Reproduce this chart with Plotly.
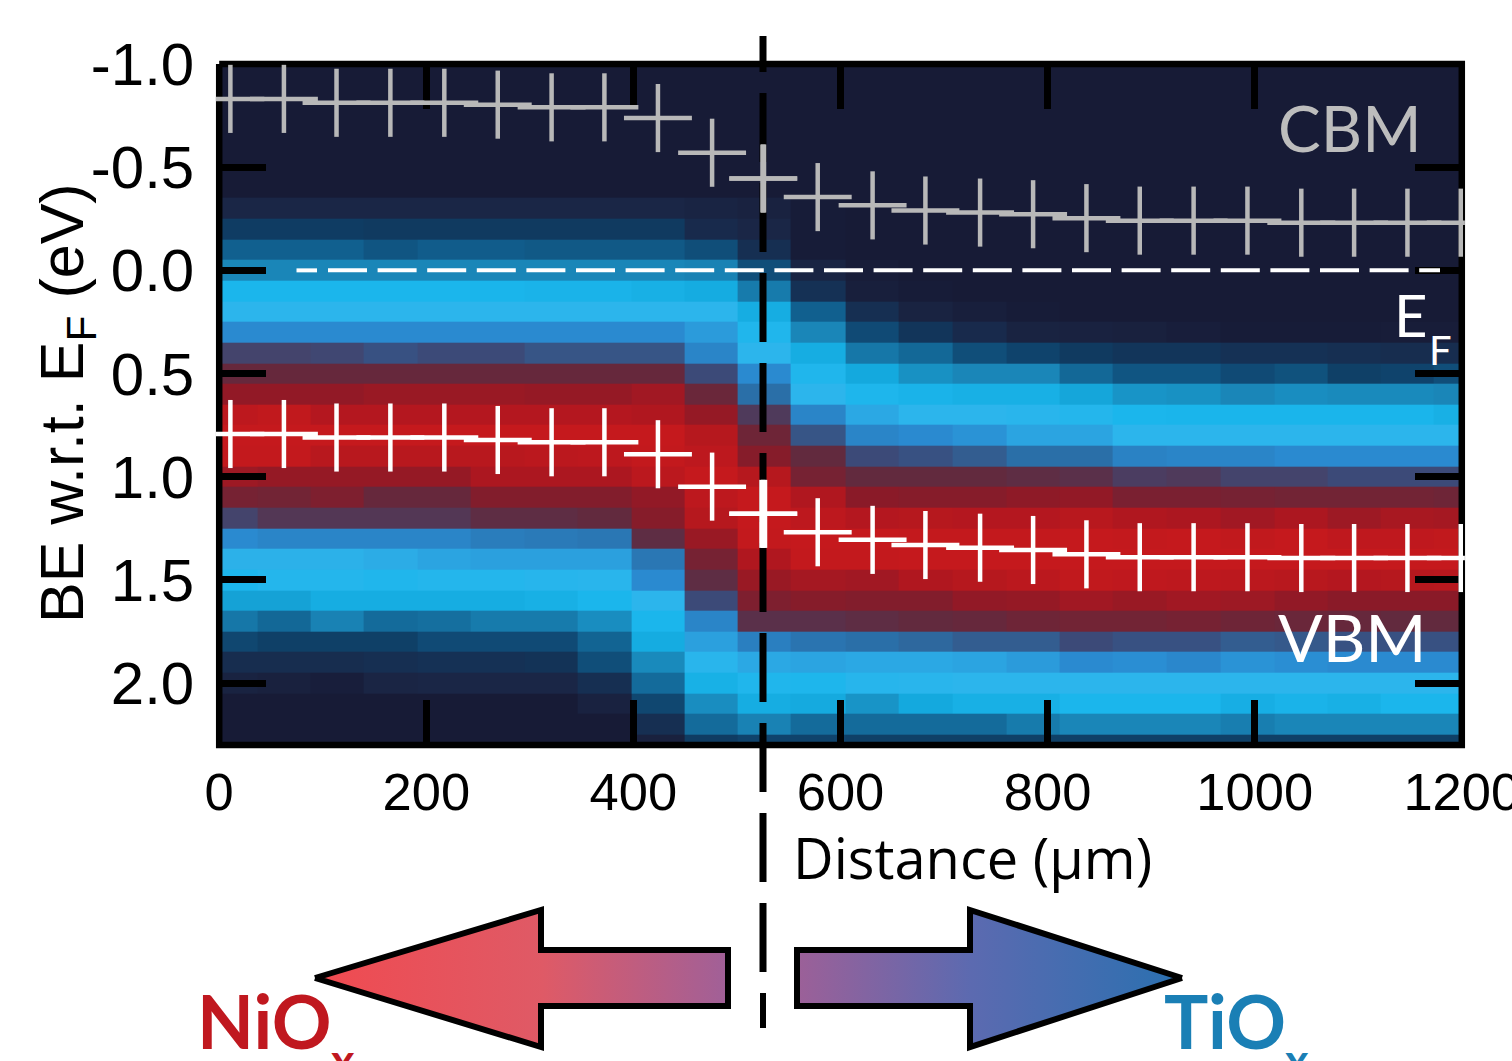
import plotly.graph_objects as go

distance_um = [10.8, 62.5, 113.3, 165.3, 217.4, 269, 321, 372, 423.7, 476, 525.4, 578,
               631, 682, 734.8, 786, 837.5, 889, 941, 993, 1045, 1096, 1147.5, 1199]
energy_eV = [k / 10 for k in range(-10, 24)]

level_colors = ["#171b36", "#1a2646", "#0f3c63", "#11608f", "#1a86b8", "#14a9de", "#1bb6ec",
                "#2cb5ec", "#2a8ad0", "#2a6fa8", "#3c4a78", "#622a3e", "#8a1a28", "#b0171f", "#c5191d"]

blank_row = [0] * 24
intensity = [blank_row] * 7 + [
 [1,1,1,1,1,1,1,1,1,.8,.6,.1,0,0,0,0,0,0,0,0,0,0,0,0],
 [2,2,2,1.9,1.9,1.9,1.9,1.9,1.9,1.2,1,.1,0,0,0,0,0,0,0,0,0,0,0,0],
 [3,3,3,2.7,2.9,2.9,2.8,2.8,2.8,2.5,1.4,.1,0,0,0,0,0,0,0,0,0,0,0,0],
 [4,4,4,4,4,4,4,4,4,3.9,2.5,.8,.2,0,0,0,0,0,0,0,0,0,0,0],
 [6,6,6,6,6,5.9,5.8,5.8,5.5,5.2,3.7,1.5,.4,.1,0,0,0,0,0,0,0,0,0,0],
 [7,7,7,7,7,7,7,7,7,7,5.3,3,1.4,.7,.4,.1,0,0,0,0,0,0,0,0],
 [8,8,8,8,8,8,8,8,8,7.6,6.3,4,2.4,1.7,1.2,.7,.6,.5,.3,.1,.1,.1,.2,.2],
 [10.2,10.2,10.1,9.8,10,10,9.7,9.7,9.7,8.2,7,5.3,3.6,3.2,2.5,2.2,1.9,1.7,1.7,1.5,1.5,1.4,1.3,1.3],
 [11.1,11.1,11.1,11.1,11.1,11.1,11.1,11.1,11.1,10,8,6.3,5,4.3,4,4,3.2,2.7,2.7,2.4,2.6,2.1,2.2,2.5],
 [12.2,12.2,12.2,12.4,12.4,12.4,12.3,12.3,12.6,11.2,9,7,6.2,5.8,5.5,5.5,4.9,4.4,4.3,4,4.2,4.1,4.1,4],
 [13.6,13.8,13.2,13.2,13.2,13.2,13.2,13.2,13,12.3,10.5,8.2,7.3,7,7,6.8,6.5,6,5.9,5.9,5.9,5.9,5.9,5.5],
 [14,14,14,14,14,14,14,14,14,13.3,11.3,9.7,8.2,8,7.8,7.4,7.4,7,7,7,7,7,7,7],
 [13.9,13.9,13.4,13.4,13.4,13.4,13.5,13.6,13.9,13.6,11.9,11,10,9.8,9.5,9,9,8.3,8.2,8.2,8,8,8,8],
 [12.5,12.3,12.3,12.3,12.3,12.9,12.9,12.9,13.5,14,13.3,11.5,11,11,11,10.9,10.8,10.4,10.5,10.2,10.2,10,10,10],
 [11.5,11.4,11.7,11.1,11.1,11.8,11.8,11.8,12.2,13.6,14,13,12,11.9,11.9,12.1,12.2,11.6,11.6,11.5,11.4,11.4,11.4,11.3],
 [10.2,10.6,10.6,10.6,10.6,10.9,10.9,11,11.9,13.3,14,13.6,13.2,13.3,13.2,13.2,13.4,13,12.9,12.6,12.9,12.5,12.8,12.7],
 [8,8.2,8.2,8.2,8.2,8.5,8.6,8.7,10.9,12.4,13.9,14,14,13.9,13.9,13.9,14,13.9,14,13.8,14,13.7,13.7,13.8],
 [7.1,7.1,7.1,7.2,7.4,7.5,7.5,7.5,8.7,11.5,13,13.9,13.9,14,14,14,14,14,14,14,14,14,14,14],
 [6.1,6.5,6.5,6.3,6.5,6.5,6.7,6.8,8,10.9,12.4,12.7,12.6,13,13.3,13.5,13.8,13.7,13.6,13.5,13.4,13.2,13.3,13.4],
 [4.8,4.8,5.3,5.3,5.3,5.3,5.5,6,7,10,11.7,11.9,11.8,11.8,12.2,12.3,12.6,12.4,12.6,12.5,12.2,12,12,12],
 [3.6,3.2,3.9,3.3,3.4,3.7,3.7,4.2,6,8.2,10.8,10.8,10.9,11,11.1,11.3,11.4,11.4,11.5,11.3,11.2,11.1,11,11],
 [2.3,2.1,2.1,2.1,2.4,2.4,2.4,3.1,5.2,7.5,8.4,8.8,9,9.2,9.5,9.5,10,9.8,9.8,9.5,9.6,9.8,9.8,9.8],
 [1.3,1.3,1.3,1.4,1.5,1.5,1.6,2.5,4.1,6.8,7.3,7.4,7.3,7.3,7.4,7.6,8,7.9,8.1,7.8,7.9,8,8,8],
 [.7,.5,.3,.9,1,1,1,1.4,3.3,5.6,6.3,6.2,6.7,6.8,7,7,7,7,7,7,7,7,7,7],
 [0,0,0,0,0,0,0,.6,2.3,4.2,5.3,5.1,4.4,5,5.5,5.5,6,6,6,5.4,5.8,5.5,6,6],
 [0,0,0,0,0,0,0,0,1.4,3.3,3.9,3.3,3.3,3.3,3.3,3.7,4,4,4,3.8,4,4,4,4],
 [0,0,0,0,0,0,0,0,.5,2,2.2,2.2,2.1,2.1,2.1,2.1,2.1,2.1,2.1,2.1,2.1,2.1,2.1,2.1],
]

vbm_eV = [0.793, 0.793, 0.810, 0.810, 0.810, 0.822, 0.833, 0.833, 0.891, 1.048, 1.180, 1.269,
          1.306, 1.331, 1.344, 1.355, 1.376, 1.390, 1.390, 1.390, 1.394, 1.394, 1.394, 1.394]
cbm_eV = [-0.831, -0.831, -0.812, -0.812, -0.812, -0.803, -0.790, -0.790, -0.738, -0.570, -0.445, -0.355,
          -0.315, -0.290, -0.280, -0.272, -0.253, -0.241, -0.241, -0.241, -0.231, -0.231, -0.231, -0.231]
x_err_plus = [32.8] * 23 + [4]
x_err_minus = [14] + [32.8] * 23

x_ticks = [0, 200, 400, 600, 800, 1000, 1200]
y_ticks = [-1.0, -0.5, 0.0, 0.5, 1.0, 1.5, 2.0]
y_tick_labels = ["-1.0", "-0.5", "0.0", "0.5", "1.0", "1.5", "2.0"]

W, H = 1512, 1061
L, R, T, B = 219.2, 1461.8, 64.0, 745.0
def X(px): return (px - L) / (R - L) * 1200
def Y(py): return (py - T) / (B - T) * 3.3 - 1.0

fig = go.Figure()
n = len(level_colors) - 1
fig.add_trace(go.Heatmap(x=distance_um, y=energy_eV, z=intensity, zmin=0, zmax=n, showscale=False,
                         colorscale=[[i / n, c] for i, c in enumerate(level_colors)], hoverinfo="skip"))

over = dict(xaxis="x2", yaxis="y2", showlegend=False)
# frame
fig.add_trace(go.Scatter(x=[0, 1200, 1200, 0, 0], y=[-1, -1, 2.3, 2.3, -1], mode="lines",
                         line=dict(color="black", width=6.5), **over))
# interface dashed line
fig.add_trace(go.Scatter(x=[X(763)] * 2, y=[Y(972), Y(36)], mode="lines",
                         line=dict(color="black", width=7, dash="69px,21px"), **over))
fig.add_trace(go.Scatter(x=[X(763)] * 2, y=[Y(993), Y(1028)], mode="lines",
                         line=dict(color="black", width=6), **over))
# Fermi level
fig.add_trace(go.Scatter(x=[X(296.5), X(317)], y=[0, 0], mode="lines", line=dict(color="white", width=4), **over))
fig.add_trace(go.Scatter(x=[X(328), X(1440)], y=[0, 0], mode="lines",
                         line=dict(color="white", width=4, dash="39px,10.6px"), **over))

def crosses(xs, ys, plus, minus, color, tx, ty):
    fig.add_trace(go.Scatter(x=xs, y=ys, mode="markers", marker=dict(size=1, color=color),
                             error_x=dict(type="data", symmetric=False, array=plus, arrayminus=minus,
                                          color=color, thickness=tx, width=0),
                             error_y=dict(type="constant", value=0.165, color=color, thickness=ty, width=0), **over))

crosses(distance_um, cbm_eV, x_err_plus, x_err_minus, "#b8b8b8", 4.5, 4.5)
crosses(distance_um, vbm_eV, x_err_plus, x_err_minus, "#ffffff", 4.5, 4.5)
crosses(distance_um[10:11], cbm_eV[10:11], x_err_plus[10:11], x_err_minus[10:11], "#b8b8b8", 4.5, 6)
crosses(distance_um[10:11], vbm_eV[10:11], x_err_plus[10:11], x_err_minus[10:11], "#ffffff", 4.5, 8)

# arrows
left_x = [315, 541, 541, 728, 728, 541, 541, 315]
left_y = [978, 910, 950, 950, 1006, 1006, 1047, 978]
right_x = [1182, 970, 970, 797, 797, 970, 970, 1182]
right_y = [978, 910, 950, 950, 1006, 1006, 1047, 978]
fig.add_trace(go.Scatter(x=[X(v) for v in left_x], y=[Y(v) for v in left_y], mode="lines", fill="toself",
                         line=dict(color="black", width=6),
                         fillgradient=dict(type="horizontal", colorscale=[[0, "#f04a50"], [0.55, "#df5a66"], [1, "#a06098"]]), **over))
fig.add_trace(go.Scatter(x=[X(v) for v in right_x], y=[Y(v) for v in right_y], mode="lines", fill="toself",
                         line=dict(color="black", width=6),
                         fillgradient=dict(type="horizontal", colorscale=[[0, "#9c6098"], [0.45, "#5c6ab0"], [1, "#2a70b0"]]), **over))

def note(text, px, py, size, color, family="Lato", angle=0, anchor="left"):
    fig.add_annotation(text=text, xref="paper", yref="paper", x=px / W, y=1 - py / H, xanchor=anchor, yanchor="middle",
                       showarrow=False, textangle=angle, font=dict(family=family, size=size, color=color), borderpad=0)

note("CBM", 1277, 128, 64, "#bdbdbd")
note("VBM", 1277, 636, 66, "#ffffff")
note("E", 1393, 314, 58, "#ffffff")
note("F", 1428, 350, 40, "#ffffff")
note("Distance (µm)", 792, 857, 56, "#000000", family="Open Sans")
note("<b>NiO</b>", 196, 1020, 74, "#c0181f")
note("<b>x</b>", 330, 1060, 45, "#c0181f")
note("<b>TiO</b>", 1163, 1020, 74, "#1a7fb5")
note("<b>x</b>", 1284, 1060, 45, "#1a7fb5")
note("BE w.r.t. E<sub>F</sub> (eV)", 66, 403, 61, "#000000", family="Liberation Sans", angle=-90, anchor="center")

axis_common = dict(ticks="inside", mirror="ticks", showline=False, showgrid=False, zeroline=False,
                   tickcolor="black", tickwidth=6.5)
fig.update_layout(
    xaxis=dict(domain=[L / W, R / W], range=[0, 1200], tickmode="array", tickvals=x_ticks, ticklen=45,
               ticklabelstandoff=11, ticklabeloverflow="allow",
               tickfont=dict(family="Liberation Sans", size=52.5, color="black"), **axis_common),
    yaxis=dict(domain=[1 - B / H, 1 - T / H], range=[2.3, -1.0], tickmode="array", tickvals=y_ticks,
               ticktext=y_tick_labels, ticklen=47, ticklabelstandoff=24,
               tickfont=dict(family="Liberation Sans", size=60, color="black"), **axis_common),
    xaxis2=dict(domain=[0, 1], range=[X(0), X(W)], anchor="y2", visible=False),
    yaxis2=dict(domain=[0, 1], range=[Y(H), Y(0)], anchor="x2", visible=False),
    width=W, height=H, autosize=False, showlegend=False,
    margin=dict(l=0, r=0, t=0, b=0, pad=0, autoexpand=False),
    paper_bgcolor="white", plot_bgcolor="rgba(0,0,0,0)")

fig.write_html("out.html", config={"displayModeBar": False},
               post_script="document.body.style.margin='0';document.body.style.overflow='hidden';")
